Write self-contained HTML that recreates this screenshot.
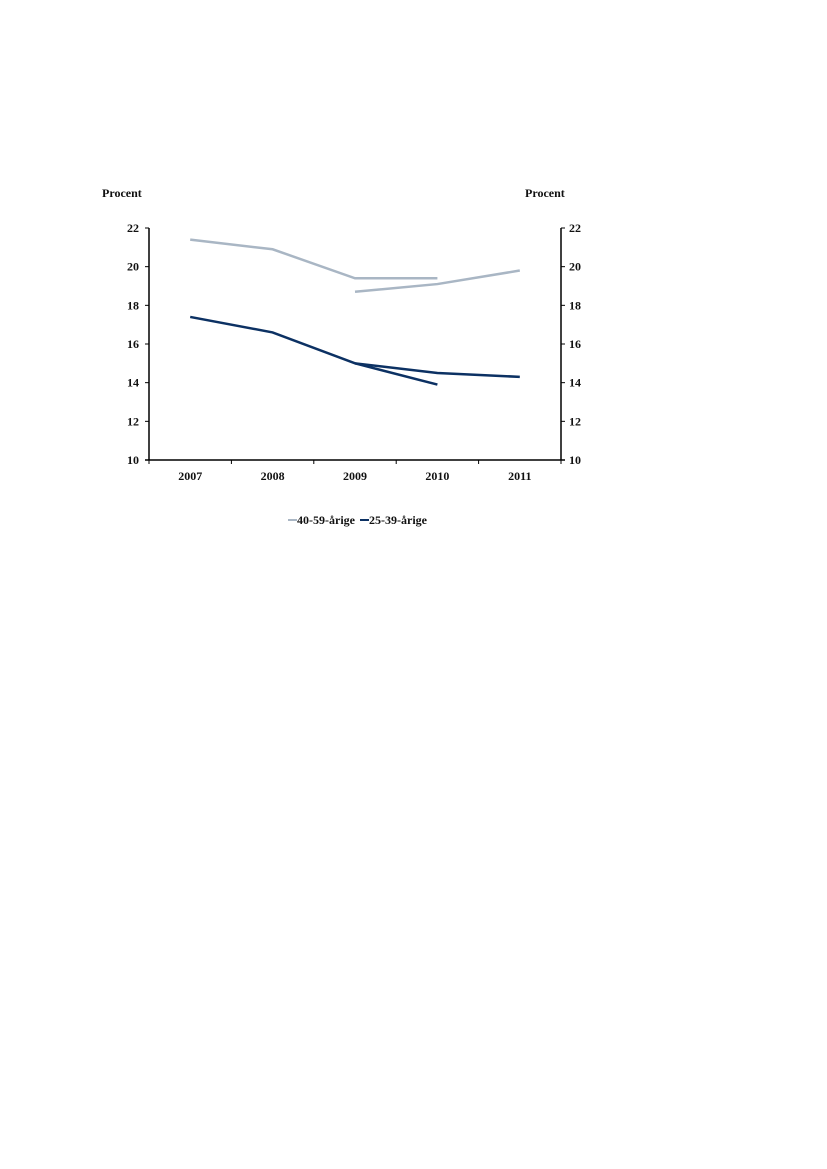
<!DOCTYPE html>
<html><head><meta charset="utf-8"><style>
html,body{margin:0;padding:0;background:#fff;}
svg{display:block;}
text{font-family:"Liberation Serif",serif;font-weight:bold;font-size:12px;fill:#111;}
</style></head><body>
<svg width="827" height="1169">
<g id="root"></g>
</svg>
<script>
const categories=["2007","2008","2009","2010","2011"];
const old1=[21.4,20.9,19.4,19.4,null];
const old2=[null,null,18.7,19.1,19.8];
const young1=[17.4,16.6,15.0,13.9,null];
const young2=[null,null,15.0,14.5,14.3];
const yTicks=[10,12,14,16,18,20,22];
const NS="http://www.w3.org/2000/svg";
const root=document.getElementById('root');
const L=149,R=561,T=228,B=460,yMin=10,yMax=22;
const bw=(R-L)/categories.length;
function x(i){return L+bw*(i+0.5);}
function y(v){return B-(v-yMin)/(yMax-yMin)*(B-T);}
function mk(tag,attrs,txt){const e=document.createElementNS(NS,tag);for(const k in attrs)e.setAttribute(k,attrs[k]);if(txt!==undefined)e.textContent=txt;root.appendChild(e);return e;}
let e;
e=mk('line',{x1:L,y1:T,x2:L,y2:B,stroke:'#000','stroke-width':1.5});


e=mk('line',{x1:R,y1:T,x2:R,y2:B,stroke:'#000','stroke-width':1.5});


e=mk('line',{x1:L-4,y1:B,x2:R+4,y2:B,stroke:'#000','stroke-width':1.5});


yTicks.forEach(v=>{
  mk('line',{x1:L-4,y1:y(v),x2:L,y2:y(v),stroke:'#000'});
  mk('line',{x1:R,y1:y(v),x2:R+4,y2:y(v),stroke:'#000'});
  e=mk('text',{x:L-10,y:y(v)+4,'text-anchor':'end'},v);
  
  
  e=mk('text',{x:R+8,y:y(v)+4,'text-anchor':'start'},v);
  
  
});
for(let i=0;i<=categories.length;i++){mk('line',{x1:L+bw*i,y1:B,x2:L+bw*i,y2:B+4,stroke:'#000'});}
categories.forEach((c,i)=>{
  e=mk('text',{x:x(i),y:B+20,'text-anchor':'middle'},c);
  
  
});
e=mk('text',{x:102,y:197},'Procent');


e=mk('text',{x:525,y:197},'Procent');


function line(arr,color,name){
  const pts=[];arr.forEach((v,i)=>{if(v!==null)pts.push(x(i)+','+y(v));});
  const p=mk('polyline',{points:pts.join(' '),fill:'none',stroke:color,'stroke-width':2.5});
  
  
}
line(old1,'#a9b6c4','line-40-59-previous');
line(old2,'#a9b6c4','line-40-59-current');
line(young1,'#0c3163','line-25-39-previous');
line(young2,'#0c3163','line-25-39-current');
e=mk('line',{x1:288,y1:520,x2:297,y2:520,stroke:'#a9b6c4','stroke-width':2});


e=mk('text',{x:297,y:524,'font-size':'11px'},'40-59-årige');


e=mk('line',{x1:360,y1:520,x2:369,y2:520,stroke:'#0c3163','stroke-width':2});


e=mk('text',{x:369,y:524,'font-size':'11px'},'25-39-årige');


</script>
</body></html>
